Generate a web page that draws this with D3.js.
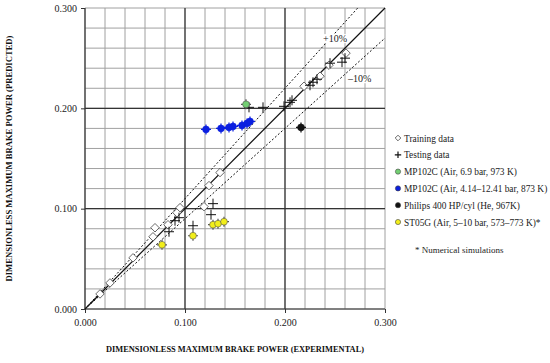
<!DOCTYPE html>
<html>
<head>
<meta charset="utf-8">
<script src="https://cdn.jsdelivr.net/npm/d3@7"></script>
<style>
  body { margin: 0; background: #fff; }
  svg { font-family: "Liberation Serif", "DejaVu Serif", serif; }
</style>
</head>
<body>
<div id="app"></div>
<script>
const WIDTH = 550;
const HEIGHT = 363;
const MARGIN = { TOP: 8, LEFT: 85, RIGHT: 165, BOTTOM: 54 };

// Data: [experimental, predicted]
const trainingData = [
  [0.015, 0.015], [0.025, 0.026], [0.048, 0.051], [0.068, 0.072],
  [0.070, 0.081], [0.083, 0.084], [0.092, 0.096], [0.095, 0.101],
  [0.119, 0.102], [0.124, 0.123], [0.135, 0.136], [0.219, 0.222],
  [0.235, 0.232], [0.244, 0.243], [0.261, 0.255]
];
const testingData = [
  [0.084, 0.077], [0.090, 0.088], [0.094, 0.091], [0.108, 0.083],
  [0.126, 0.094], [0.128, 0.105], [0.164, 0.201], [0.178, 0.201],
  [0.199, 0.202], [0.205, 0.206], [0.207, 0.208], [0.225, 0.223],
  [0.228, 0.226], [0.232, 0.229], [0.245, 0.245], [0.257, 0.246],
  [0.260, 0.250]
];
const mp102cGreen = [[0.161, 0.204]];
const mp102cBlue = [
  [0.121, 0.179], [0.136, 0.180], [0.144, 0.181], [0.148, 0.182],
  [0.157, 0.183], [0.162, 0.185], [0.165, 0.187]
];
const philips = [[0.216, 0.181]];
const st05g = [
  [0.077, 0.064], [0.108, 0.073], [0.128, 0.084], [0.133, 0.085], [0.139, 0.087]
];

const majorTicks = [0, 0.1, 0.2, 0.3];
const minorTicks = d3.range(0, 0.3001, 0.02);
const bands = [1.1, 0.9];

const legendLabels = [
  "Training data",
  "Testing data",
  "MP102C (Air, 6.9 bar, 973 K)",
  "MP102C (Air, 4.14\u201312.41 bar, 873 K)",
  "Philips 400 HP/cyl (He, 967K)",
  "ST05G (Air, 5\u201310 bar, 573\u2013773 K)*"
];
const legendColors = [null, null, "#72cf72", "#0a1fe0", "#111111", "#f2ee1a"];

const svg = d3.select("#app").append("svg")
  .attr("width", WIDTH).attr("height", HEIGHT);

const x = d3.scaleLinear().domain([0, 0.3]).range([MARGIN.LEFT, WIDTH - MARGIN.RIGHT]);
const y = d3.scaleLinear().domain([0, 0.3]).range([HEIGHT - MARGIN.BOTTOM, MARGIN.TOP]);

// Grid
const grid = svg.append("g");
grid.selectAll(".vx").data(minorTicks).join("line")
  .attr("x1", d => x(d)).attr("x2", d => x(d))
  .attr("y1", y(0)).attr("y2", y(0.3))
  .attr("stroke", "#a0a0a0").attr("stroke-width", 1);
grid.selectAll(".hy").data(minorTicks).join("line")
  .attr("y1", d => y(d)).attr("y2", d => y(d))
  .attr("x1", x(0)).attr("x2", x(0.3))
  .attr("stroke", "#a0a0a0").attr("stroke-width", 1);
grid.selectAll(".mx").data(majorTicks.slice(0, 3)).join("line")
  .attr("x1", d => x(d)).attr("x2", d => x(d))
  .attr("y1", y(0)).attr("y2", y(0.3))
  .attr("stroke", "#333").attr("stroke-width", 1.2);
grid.selectAll(".my").data(majorTicks.slice(0, 3)).join("line")
  .attr("y1", d => y(d)).attr("y2", d => y(d))
  .attr("x1", x(0)).attr("x2", x(0.3))
  .attr("stroke", "#333").attr("stroke-width", 1.2);

// Axes
const xAxis = svg.append("g")
  .attr("transform", `translate(0,${y(0)})`)
  .call(d3.axisBottom(x).tickValues(majorTicks).tickFormat(d3.format(".3f")).tickSize(4).tickPadding(6));
const yAxis = svg.append("g")
  .attr("transform", `translate(${x(0)},0)`)
  .call(d3.axisLeft(y).tickValues(majorTicks).tickFormat(d3.format(".3f")).tickSize(4).tickPadding(4));
[xAxis, yAxis].forEach(a => {
  a.select(".domain").remove();
  a.selectAll("line").attr("stroke", "#333");
  a.selectAll("text").attr("font-size", 10).attr("fill", "#222")
    .attr("font-family", "Liberation Serif, serif");
});

// Reference lines
const lines = svg.append("g");
lines.append("line")
  .attr("x1", x(0)).attr("y1", y(0)).attr("x2", x(0.3)).attr("y2", y(0.3))
  .attr("stroke", "#111").attr("stroke-width", 1.2);
lines.selectAll(".band").data(bands).join("line")
  .attr("x1", x(0)).attr("y1", y(0))
  .attr("x2", k => x(Math.min(0.3, 0.3 / k)))
  .attr("y2", k => y(Math.min(0.3, 0.3 / k) * k))
  .attr("stroke", "#111").attr("stroke-width", 1)
  .attr("stroke-dasharray", "2,2");

// band labels with white backing
const bandLabels = [
  { text: "+10%", x: 0.238, y: 0.266 },
  { text: "\u201310%", x: 0.263, y: 0.226 }
];
bandLabels.forEach(b => {
  const t = svg.append("text").attr("x", x(b.x)).attr("y", y(b.y))
    .attr("font-size", 10).attr("fill", "#222").text(b.text);
  const bb = t.node().getBBox();
  svg.insert("rect", () => t.node())
    .attr("x", bb.x - 1).attr("y", bb.y + 1).attr("width", bb.width + 2).attr("height", bb.height - 2)
    .attr("fill", "#fff");
});

// Marks
const plusPath = s => `M${-s},0H${s}M0,${-s}V${s}`;
const marks = svg.append("g");

marks.selectAll(".train").data(trainingData).join("path")
  .attr("transform", d => `translate(${x(d[0])},${y(d[1])})`)
  .attr("d", d3.symbol(d3.symbolDiamond2, 46)())
  .attr("fill", "#fff").attr("stroke", "#444").attr("stroke-width", 0.8);

marks.selectAll(".test").data(testingData).join("path")
  .attr("transform", d => `translate(${x(d[0])},${y(d[1])})`)
  .attr("d", plusPath(5))
  .attr("fill", "none").attr("stroke", "#111").attr("stroke-width", 1);

function colored(data, color, armColor) {
  const g = marks.append("g");
  g.selectAll("path").data(data).join("path")
    .attr("transform", d => `translate(${x(d[0])},${y(d[1])})`)
    .attr("d", plusPath(5))
    .attr("stroke", armColor).attr("stroke-width", 1.2);
  g.selectAll("circle").data(data).join("circle")
    .attr("cx", d => x(d[0])).attr("cy", d => y(d[1])).attr("r", 3.4)
    .attr("fill", color).attr("stroke", armColor).attr("stroke-width", 0.6);
}
colored(st05g, legendColors[5], "#555");
colored(mp102cBlue, legendColors[3], legendColors[3]);
colored(philips, legendColors[4], legendColors[4]);
colored(mp102cGreen, legendColors[2], "#555");

// Axis titles
svg.append("text")
  .attr("x", 235).attr("y", 352)
  .attr("text-anchor", "middle").attr("font-size", 8.4).attr("font-weight", "bold")
  .attr("fill", "#111")
  .text("DIMENSIONLESS MAXIMUM BRAKE POWER (EXPERIMENTAL)");
svg.append("text")
  .attr("transform", `translate(12,${(y(0) + y(0.3)) / 2}) rotate(-90)`)
  .attr("text-anchor", "middle").attr("font-size", 8.6).attr("font-weight", "bold")
  .attr("fill", "#111")
  .text("DIMENSIONLESS MAXIMUM BRAKE POWER (PREDICTED)");

// Legend
const legend = svg.append("g").attr("transform", "translate(398,138)");
const item = legend.selectAll("g").data(legendLabels).join("g")
  .attr("transform", (d, i) => `translate(0,${i * 16.8})`);
item.each(function (d, i) {
  const g = d3.select(this);
  if (i === 0) {
    g.append("path").attr("d", d3.symbol(d3.symbolDiamond2, 20)())
      .attr("fill", "#fff").attr("stroke", "#444").attr("stroke-width", 0.8);
  } else if (i === 1) {
    g.append("path").attr("d", plusPath(3.2))
      .attr("stroke", "#111").attr("stroke-width", 1.2);
  } else {
    g.append("circle").attr("r", 2.6).attr("fill", legendColors[i])
      .attr("stroke", "#444").attr("stroke-width", 0.6);
  }
});
item.append("text").attr("x", 6).attr("y", 3.5)
  .attr("font-size", 9.4).attr("fill", "#222").text(d => d);

svg.append("text").attr("x", 415).attr("y", 253)
  .attr("font-size", 9).attr("fill", "#222").text("* Numerical simulations");
</script>
</body>
</html>
